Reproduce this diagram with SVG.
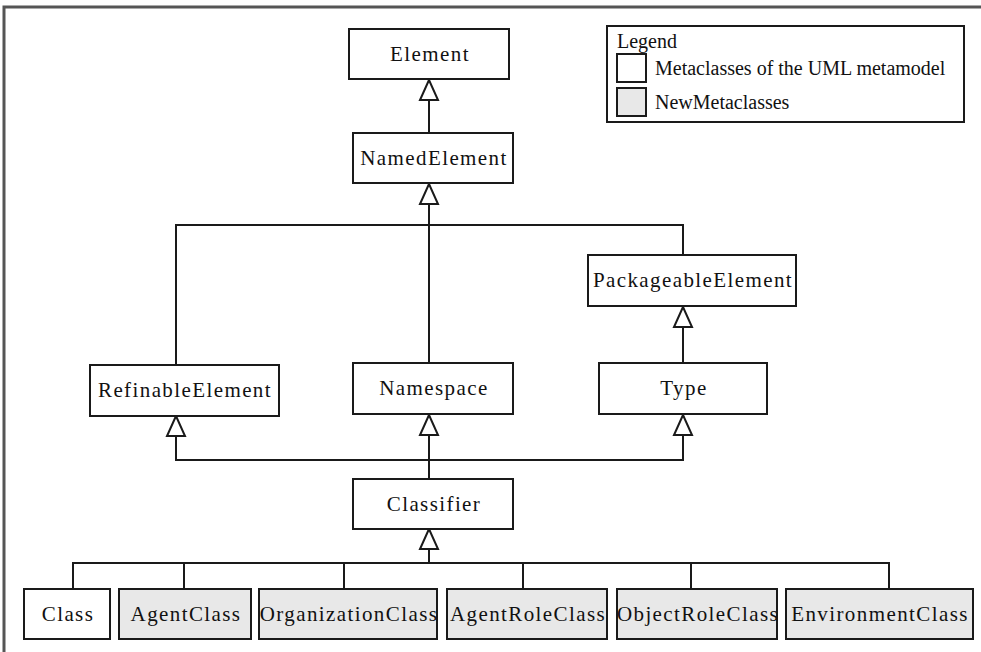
<svg xmlns="http://www.w3.org/2000/svg" width="981" height="652" viewBox="0 0 981 652">
  <style>
    .box { fill: #ffffff; stroke: #1a1a1a; stroke-width: 2; }
    .new { fill: #e8e8e8; }
    .lbl { font-family: "Liberation Serif", "DejaVu Serif", serif; font-size: 21px; letter-spacing: 1.4px; fill: #111; text-anchor: middle; }
    .leg { font-family: "Liberation Serif", "DejaVu Serif", serif; font-size: 20px; fill: #111; }
    .wire { fill: none; stroke: #1a1a1a; stroke-width: 2; }
    .frame { fill: none; stroke: #555; stroke-width: 3; }
  </style>
  <defs>
    <!-- hollow generalization triangle, tip at origin pointing up -->
    <path id="gen" d="M0,0 L-9,20 L9,20 Z" fill="#fff" stroke="#1a1a1a" stroke-width="2" stroke-linejoin="miter"/>
  </defs>

  <rect width="981" height="652" fill="#fff"/>
  <!-- outer frame (top and left edges) -->
  <path class="frame" d="M4,652 L4,7 L981,7"/>

  <!-- legend -->
  <g id="legend">
    <rect x="607" y="26" width="357" height="96" class="box"/>
    <text class="leg" x="617" y="48">Legend</text>
    <rect x="617" y="54" width="29" height="28" class="box"/>
    <text class="leg" x="655" y="75">Metaclasses of the UML metamodel</text>
    <rect x="617" y="88" width="29" height="28" class="box new"/>
    <text class="leg" x="655" y="109">NewMetaclasses</text>
  </g>

  <!-- generalization connectors -->
  <g id="connectors">
    <path class="wire" d="M429,100 L429,133"/>
    <use href="#gen" x="429" y="80"/>

    <path class="wire" d="M429,205 L429,363 M176,365 L176,225 L683,225 L683,255"/>
    <use href="#gen" x="429" y="184"/>

    <path class="wire" d="M683,327 L683,363"/>
    <use href="#gen" x="683" y="307"/>

    <path class="wire" d="M176,435 L176,460 L683,460 L683,435 M429,435 L429,479"/>
    <use href="#gen" x="176" y="416"/>
    <use href="#gen" x="429" y="415"/>
    <use href="#gen" x="683" y="415"/>

    <path class="wire" d="M429,549 L429,563 M73,589 L73,563 L889,563 L889,589 M184,563 L184,589 M344,563 L344,589 M523,563 L523,589 M691,563 L691,589"/>
    <use href="#gen" x="429" y="529"/>
  </g>

  <!-- metaclasses -->
  <g id="Element">
    <rect x="349" y="29" width="160" height="50" class="box"/>
    <text class="lbl" x="430" y="61">Element</text>
  </g>
  <g id="NamedElement">
    <rect x="353" y="133" width="160" height="50" class="box"/>
    <text class="lbl" x="434" y="165">NamedElement</text>
  </g>
  <g id="PackageableElement">
    <rect x="588" y="255" width="208" height="51" class="box"/>
    <text class="lbl" x="693" y="287">PackageableElement</text>
  </g>
  <g id="RefinableElement">
    <rect x="90" y="365" width="189" height="51" class="box"/>
    <text class="lbl" x="185" y="397">RefinableElement</text>
  </g>
  <g id="Namespace">
    <rect x="353" y="363" width="160" height="51" class="box"/>
    <text class="lbl" x="434" y="395">Namespace</text>
  </g>
  <g id="Type">
    <rect x="599" y="363" width="168" height="51" class="box"/>
    <text class="lbl" x="684" y="395">Type</text>
  </g>
  <g id="Classifier">
    <rect x="353" y="479" width="160" height="50" class="box"/>
    <text class="lbl" x="434" y="511">Classifier</text>
  </g>
  <g id="Class">
    <rect x="24" y="589" width="86" height="50" class="box"/>
    <text class="lbl" x="68" y="621">Class</text>
  </g>
  <g id="AgentClass">
    <rect x="119" y="589" width="132" height="50" class="box new"/>
    <text class="lbl" x="186" y="621">AgentClass</text>
  </g>
  <g id="OrganizationClass">
    <rect x="259" y="589" width="178" height="50" class="box new"/>
    <text class="lbl" x="349" y="621">OrganizationClass</text>
  </g>
  <g id="AgentRoleClass">
    <rect x="447" y="589" width="160" height="50" class="box new"/>
    <text class="lbl" x="528" y="621">AgentRoleClass</text>
  </g>
  <g id="ObjectRoleClass">
    <rect x="617" y="589" width="160" height="50" class="box new"/>
    <text class="lbl" x="698" y="621">ObjectRoleClass</text>
  </g>
  <g id="EnvironmentClass">
    <rect x="786" y="589" width="187" height="50" class="box new"/>
    <text class="lbl" x="880" y="621">EnvironmentClass</text>
  </g>
</svg>
